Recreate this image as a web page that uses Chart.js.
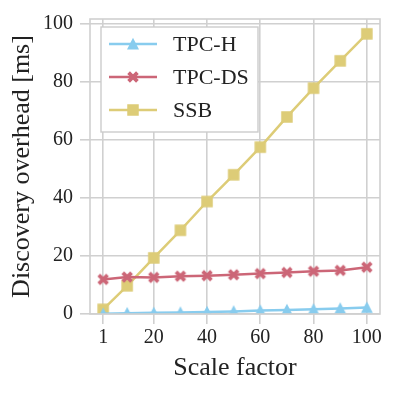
<!DOCTYPE html>
<html lang="en">
<head>
    <meta charset="UTF-8">
    <title>Discovery overhead</title>
    <script src="https://cdn.jsdelivr.net/npm/chart.js"></script>
    <style>
        body {
            margin: 0;
            padding: 0;
            background: #ffffff;
        }
        .wrap {
            width: 394px;
            height: 394px;
        }
    </style>
</head>
<body>
    <div class="wrap">
        <canvas id="overheadChart" width="394" height="394"></canvas>
    </div>

    <script>
        // values
        const scaleFactors = [1, 10, 20, 30, 40, 50, 60, 70, 80, 90, 100];
        const tpchOverhead = [0.1, 0.3, 0.4, 0.5, 0.7, 0.9, 1.2, 1.4, 1.6, 1.9, 2.2];
        const tpcdsOverhead = [11.9, 12.7, 12.6, 13.0, 13.2, 13.5, 13.9, 14.3, 14.7, 15.0, 16.1];
        const ssbOverhead = [1.6, 9.7, 19.3, 28.8, 38.7, 47.9, 57.4, 67.8, 77.7, 87.1, 96.4];
        const xTickValues = [1, 20, 40, 60, 80, 100];
        const yTickValues = [0, 20, 40, 60, 80, 100];

        const gridGray = "#d0d0d0";
        const textColor = "#222222";
        const serif = "'Liberation Serif', 'DejaVu Serif', serif";

        function makeMarker(kind, color) {
            const c = document.createElement("canvas");
            c.width = 16;
            c.height = 16;
            const g = c.getContext("2d");
            g.fillStyle = color;
            g.strokeStyle = color;
            g.translate(8, 8);
            if (kind === "square") {
                g.fillRect(-5.75, -5.75, 11.5, 11.5);
            } else if (kind === "triangle") {
                g.beginPath();
                g.moveTo(0, -6.2);
                g.lineTo(6, 5.4);
                g.lineTo(-6, 5.4);
                g.closePath();
                g.fill();
            } else {
                g.lineWidth = 3.8;
                g.beginPath();
                g.moveTo(-4.4, -4.4);
                g.lineTo(4.4, 4.4);
                g.moveTo(4.4, -4.4);
                g.lineTo(-4.4, 4.4);
                g.stroke();
            }
            return c;
        }

        const series = [
            { label: "TPC-H", values: tpchOverhead, color: "#88CCEE", marker: "triangle" },
            { label: "TPC-DS", values: tpcdsOverhead, color: "#CC6677", marker: "x" },
            { label: "SSB", values: ssbOverhead, color: "#DDCC77", marker: "square" }
        ];
        series.forEach(s => s.img = makeMarker(s.marker, s.color));

        // full grey frame plus the boxed legend in the upper left
        const frameAndLegend = {
            id: "frameAndLegend",
            afterDatasetsDraw(chart) {
                const ctx = chart.ctx;
                const a = chart.chartArea;
                ctx.save();
                ctx.strokeStyle = gridGray;
                ctx.lineWidth = 1.6;
                ctx.strokeRect(a.left, a.top, a.right - a.left, a.bottom - a.top);

                // legend box
                ctx.fillStyle = "#ffffff";
                ctx.fillRect(101, 27, 157, 105);
                ctx.strokeStyle = "#cccccc";
                ctx.lineWidth = 1.4;
                ctx.strokeRect(101, 27, 157, 105);

                ctx.font = "22px " + serif;
                ctx.textBaseline = "middle";
                ctx.textAlign = "left";
                series.forEach((s, i) => {
                    const y = 44 + i * 33;
                    ctx.strokeStyle = s.color;
                    ctx.lineWidth = 2.5;
                    ctx.beginPath();
                    ctx.moveTo(109, y);
                    ctx.lineTo(157, y);
                    ctx.stroke();
                    ctx.drawImage(s.img, 133 - 8, y - 8);
                    ctx.fillStyle = textColor;
                    ctx.fillText(s.label, 173, y + 1);
                });
                ctx.restore();
            }
        };

        new Chart(document.getElementById("overheadChart"), {
            type: "line",
            data: {
                datasets: series.map(s => ({
                    label: s.label,
                    data: scaleFactors.map((x, i) => ({ x: x, y: s.values[i] })),
                    borderColor: s.color,
                    backgroundColor: s.color,
                    borderWidth: 2.5,
                    pointStyle: s.img,
                    pointRadius: 6,
                    tension: 0
                }))
            },
            options: {
                responsive: false,
                animation: false,
                events: [],
                layout: { padding: { top: 15, right: 14, left: 0, bottom: 0 } },
                plugins: {
                    legend: { display: false },
                    tooltip: { enabled: false }
                },
                scales: {
                    x: {
                        type: "linear",
                        min: -3.95,
                        max: 104.95,
                        afterBuildTicks: scale => { scale.ticks = xTickValues.map(v => ({ value: v })); },
                        afterFit: scale => { scale.height = 80; },
                        grid: { color: gridGray, lineWidth: 1.6, tickLength: 10 },
                        border: { display: false },
                        ticks: {
                            color: textColor,
                            padding: 2,
                            maxRotation: 0,
                            font: { family: serif, size: 20 }
                        },
                        title: {
                            display: true,
                            text: "Scale factor",
                            color: textColor,
                            padding: { top: 0, bottom: 10 },
                            font: { family: serif, size: 26 }
                        }
                    },
                    y: {
                        min: 0,
                        max: 101.5,
                        afterBuildTicks: scale => { scale.ticks = yTickValues.map(v => ({ value: v })); },
                        afterFit: scale => { scale.width = 90; },
                        grid: { color: gridGray, lineWidth: 1.6, tickLength: 10 },
                        border: { display: false },
                        ticks: {
                            color: textColor,
                            padding: 7,
                            font: { family: serif, size: 20 }
                        },
                        title: {
                            display: true,
                            text: "Discovery overhead [ms]",
                            color: textColor,
                            padding: { top: 7, bottom: 0 },
                            font: { family: serif, size: 26 }
                        }
                    }
                }
            },
            plugins: [frameAndLegend]
        });
    </script>
</body>
</html>
